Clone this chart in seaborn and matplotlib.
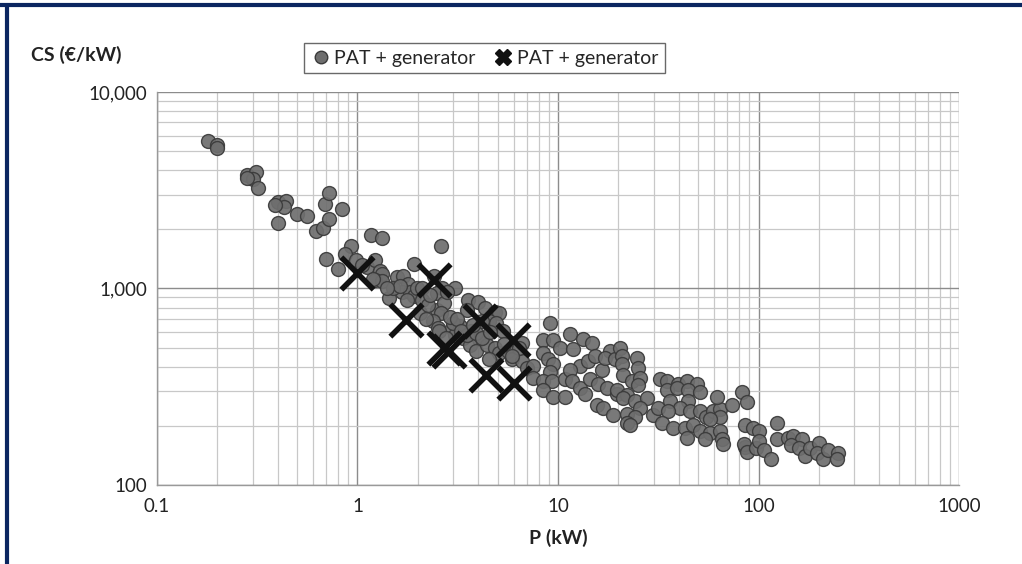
import matplotlib

matplotlib.use("Agg")
import matplotlib.pyplot as plt
import numpy as np
import pandas as pd
import seaborn as sns
from matplotlib.lines import Line2D
from matplotlib.ticker import FixedLocator, LogLocator, NullFormatter

# === DATEN ===
# PAT + generator, Kreise: Leistung P (kW) und spez. Kosten CS (EUR/kW)
kreis_p = [
    0.18, 0.20, 0.20, 0.28, 0.31, 0.30, 0.32, 0.28, 0.40, 0.44, 0.43, 0.39, 0.40,
    0.50, 0.56, 0.62, 0.67, 0.72, 0.69, 0.72, 0.84, 0.70, 0.80, 0.93, 0.87, 1.17,
    1.33, 0.98, 1.11, 1.22, 1.29, 1.33, 1.22, 1.33, 1.19, 2.6, 1.92, 1.57, 1.68,
    1.78, 1.66, 1.82, 1.92, 1.44, 1.76, 1.99, 2.09, 2.04, 2.42, 3.05, 2.65, 2.48,
    2.48, 2.71, 3.54, 3.97, 3.5, 4.3, 2.78, 2.62, 2.37, 2.51, 2.95, 3.23, 3.05,
    3.34, 4.83, 5.1, 4.55, 4.93, 3.7, 4.05, 3.62, 3.9, 4.4, 4.83, 5.1, 4.55, 5.6,
    5.9, 6.65, 6.6, 7.0, 7.5, 7.5, 3.5, 3.9, 4.2, 4.2, 2.98, 2.56, 2.1, 5.3, 6.4,
    5.9, 8.4, 9.1, 9.4, 10.2, 8.4, 8.9, 9.4, 9.1, 8.4, 9.3, 8.4, 9.4, 10.8, 10.8,
    11.5, 11.9, 13.3, 14.8, 12.9, 14.1, 15.3, 11.5, 11.8, 12.9, 13.6, 14.4, 16.6,
    15.8, 17.6, 18.2, 17.2, 19.2, 15.6, 16.8, 18.8, 19.7, 20.4, 20.9, 24.8, 25.1,
    20.9, 21.1, 23.4, 25.6, 25.1, 19.7, 22.1, 21.1, 24.2, 27.8, 25.6, 22.1, 24.2,
    22.1, 22.8, 29.8, 31.6, 32.3, 35, 39.7, 44, 49.4, 35, 39.3, 44.5, 51, 36.2,
    44.5, 40.6, 35.4, 45.5, 51, 33, 37.5, 43, 44, 47.1, 51, 57.4, 64.2, 65.8,
    66.5, 55, 59.3, 64.2, 62.1, 64.2, 73.8, 83, 88, 86, 86, 54, 57.4, 94, 101,
    124, 85, 88, 97, 101, 107, 116, 123, 140, 148, 164, 146, 160, 170, 180, 201,
    195, 209, 221, 248, 245,
    # dichter Kern zwischen 1 und 6 kW
    1.5, 1.62, 2.25, 2.3, 2.9, 3.15, 3.3, 3.75, 4.6, 5.4, 1.05, 1.4, 2.2, 2.75,
]
kreis_cs = [
    5600, 5400, 5200, 3800, 3900, 3600, 3250, 3650, 2750, 2800, 2600, 2650, 2150,
    2400, 2330, 1950, 2030, 2250, 2700, 3050, 2550, 1420, 1260, 1640, 1490, 1880,
    1800, 1390, 1280, 1390, 1230, 1190, 1100, 1090, 1120, 1650, 1340, 1140, 1160,
    1060, 955, 955, 920, 890, 870, 1010, 870, 746, 1160, 1000, 1010, 943,
    773, 840, 870, 850, 773, 800, 955, 746, 687, 633, 633, 648, 577,
    563, 755, 746, 687, 664, 611, 556, 513, 483, 513, 500, 467, 440, 483,
    440, 525, 430, 396, 405, 352, 577, 597, 687, 563, 664, 611, 1000, 611, 500,
    456, 544, 664, 544, 500, 472, 440, 415, 374, 340, 340, 303, 279, 279, 346,
    590, 495, 556, 525, 405, 430, 456, 383, 340, 313, 292, 348, 383,
    328, 313, 483, 445, 440, 254, 248, 226, 292, 500, 456, 445, 396,
    415, 361, 340, 352, 321, 303, 286, 278, 269, 278, 248, 231, 221,
    208, 201, 226, 248, 348, 340, 328, 340, 328, 303, 310, 303, 296, 269,
    269, 248, 239, 239, 239, 208, 194, 196, 174, 201, 189, 183, 189, 172,
    162, 221, 239, 243, 279, 221, 254, 296, 263, 201, 156, 172, 218, 194, 189,
    206, 162, 148, 154, 168, 150, 136, 172, 174, 178, 172, 159, 155, 141, 155, 163,
    146, 136, 150, 145, 136,
    1000, 1030, 820, 930, 720, 700, 610, 650, 600, 520, 1320, 1000, 700, 560,
]

# PAT + generator, Kreuze
kreuz_p = [1.0, 2.42, 1.75, 2.71, 2.87, 4.06, 5.93, 4.35, 6.06]
kreuz_cs = [1205, 1100, 690, 500, 483, 687, 544, 361, 332]

x_ticks = [0.1, 1, 10, 100, 1000]
x_tick_labels = ["0.1", "1", "10", "100", "1000"]
y_ticks = [100, 1000, 10000]
y_tick_labels = ["100", "1,000", "10,000"]

df_kreis = pd.DataFrame({"P": kreis_p, "CS": kreis_cs})
df_kreuz = pd.DataFrame({"P": kreuz_p, "CS": kreuz_cs})

# === STIL ===
sns.set_style("white")
plt.rcParams["font.family"] = ["Lato", "DejaVu Sans"]

fig = plt.figure(figsize=(10.22, 5.64), dpi=100)
ax = fig.add_axes([0.1536, 0.140, 0.7848, 0.697])

ax.set_xscale("log")
ax.set_yscale("log")
ax.set_xlim(0.1, 1000)
ax.set_ylim(100, 10000)

# Gitter wie Excel
ax.xaxis.set_minor_locator(LogLocator(base=10, subs=np.arange(2, 10)))
ax.yaxis.set_minor_locator(LogLocator(base=10, subs=np.arange(2, 10)))
ax.xaxis.set_minor_formatter(NullFormatter())
ax.yaxis.set_minor_formatter(NullFormatter())
ax.grid(which="minor", color="#c8c8c8", linewidth=0.9)
ax.grid(which="major", color="#8c8c8c", linewidth=1.0)
ax.set_axisbelow(True)

sns.scatterplot(
    data=df_kreis,
    x="P",
    y="CS",
    ax=ax,
    s=100,
    color="#6e6e6e",
    edgecolor="#3a3a3a",
    linewidth=1.0,
    alpha=0.92,
    zorder=3,
)
sns.scatterplot(
    data=df_kreuz,
    x="P",
    y="CS",
    ax=ax,
    marker="x",
    s=540,
    color="#111111",
    linewidth=4,
    zorder=4,
)

ax.xaxis.set_major_locator(FixedLocator(x_ticks))
ax.yaxis.set_major_locator(FixedLocator(y_ticks))
ax.set_xticklabels(x_tick_labels)
ax.set_yticklabels(y_tick_labels)
ax.tick_params(axis="both", which="major", labelsize=13.5, colors="#333333",
               length=5, width=1, direction="out")
ax.tick_params(axis="x", which="major", pad=4)
ax.tick_params(axis="y", which="major", pad=2)
ax.tick_params(axis="both", which="minor", length=0)
ax.tick_params(axis="both", labelcolor="#222222")

for side in ["top", "right"]:
    ax.spines[side].set_visible(False)
for side in ["left", "bottom"]:
    ax.spines[side].set_color("#999999")
    ax.spines[side].set_linewidth(1.0)

ax.set_xlabel("P (kW)", fontsize=14, fontweight="bold", color="#222222", labelpad=10)
ax.set_ylabel("")
fig.text(0.030, 0.903, "CS (€/kW)", fontsize=14, fontweight="bold", color="#222222",
         ha="left", va="center")

# Legende
handles = [
    Line2D([], [], linestyle="none", marker="o", markersize=9,
           markerfacecolor="#6e6e6e", markeredgecolor="#3a3a3a"),
    Line2D([], [], linestyle="none", marker="X", markersize=12,
           markerfacecolor="#111111", markeredgecolor="#111111"),
]
leg = fig.legend(
    handles,
    ["PAT + generator", "PAT + generator"],
    loc="center",
    bbox_to_anchor=(0.474, 0.897),
    ncol=2,
    frameon=True,
    fancybox=False,
    fontsize=14,
    handletextpad=0.2,
    columnspacing=0.9,
    borderpad=0.35,
    handlelength=1.0,
)
leg.get_frame().set_edgecolor("#444444")
leg.get_frame().set_linewidth(1.0)

# dunkelblauer Rahmen oben und links
fig.add_artist(Line2D([0, 1], [0.992, 0.992], color="#0b2660", linewidth=3,
                      transform=fig.transFigure))
fig.add_artist(Line2D([0.0065, 0.0065], [0, 0.992], color="#0b2660", linewidth=3,
                      transform=fig.transFigure))

fig.savefig("out.png", dpi=100, facecolor="white")
plt.close(fig)
